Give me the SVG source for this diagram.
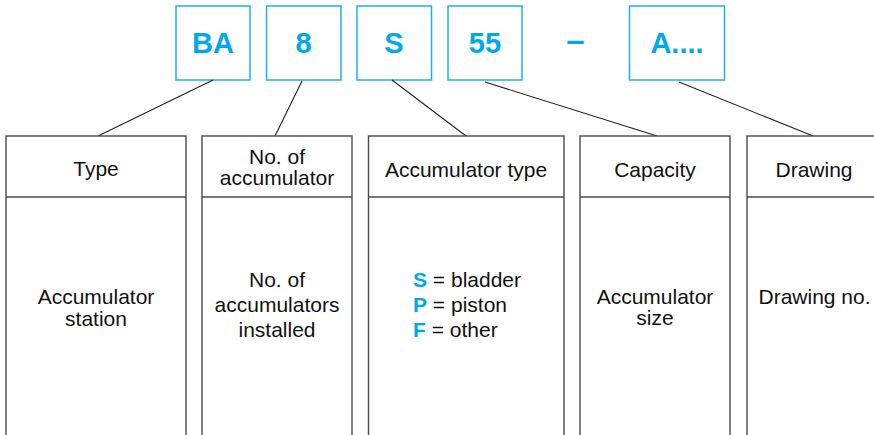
<svg xmlns="http://www.w3.org/2000/svg" width="874" height="435" viewBox="0 0 874 435">
<style>
.code{fill:#fff;stroke:#1fb0ec;stroke-width:1.5}
.ct{font-family:"Liberation Sans",Arial,sans-serif;font-weight:bold;font-size:29px;fill:#00a8ec;text-anchor:middle}
.col{fill:#fff;stroke:#4a4a4a;stroke-width:1.4}
.t{font-family:"Liberation Sans",Arial,sans-serif;font-size:21px;fill:#111;text-anchor:middle}
.ts{font-family:"Liberation Sans",Arial,sans-serif;font-size:21px;fill:#111;text-anchor:start}
.b{font-weight:bold;fill:#00a8ec}
.conn line{stroke:#222;stroke-width:1.1}
</style>
<rect width="874" height="435" fill="#fff"/>
<g id="code-BA"><rect class="code" x="176" y="6" width="74" height="74"/><text class="ct" x="213" y="53">BA</text></g>
<g id="code-8"><rect class="code" x="266.5" y="6" width="74.5" height="74"/><text class="ct" x="303.5" y="53">8</text></g>
<g id="code-S"><rect class="code" x="357" y="6" width="74.5" height="74"/><text class="ct" x="394" y="53">S</text></g>
<g id="code-55"><rect class="code" x="448" y="6" width="74" height="74"/><text class="ct" x="485" y="53">55</text></g>
<g id="dash"><text class="ct" x="575.5" y="51" style="font-size:33px">–</text></g>
<g id="code-A"><rect class="code" x="629.5" y="6" width="95" height="74"/><text class="ct" x="677" y="53">A....</text></g>

<g class="conn" id="connectors">
<line x1="213" y1="80" x2="98" y2="136"/>
<line x1="302" y1="81" x2="275" y2="136"/>
<line x1="392" y1="80" x2="466" y2="136"/>
<line x1="485" y1="82" x2="657" y2="136"/>
<line x1="679" y1="82" x2="813" y2="136"/>
</g>

<g id="col-type">
<rect class="col" x="6" y="136" width="180" height="310"/>
<line x1="6" y1="197" x2="186" y2="197" stroke="#4a4a4a" stroke-width="1.4"/>
<text class="t" x="96" y="176">Type</text>
<text class="t" x="96" y="303.5">Accumulator</text>
<text class="t" x="96" y="325.5">station</text>
</g>
<g id="col-no">
<rect class="col" x="202" y="136" width="150" height="310"/>
<line x1="202" y1="197" x2="352" y2="197" stroke="#4a4a4a" stroke-width="1.4"/>
<text class="t" x="277" y="163.5">No. of</text>
<text class="t" x="277" y="185">accumulator</text>
<text class="t" x="277" y="286.5">No. of</text>
<text class="t" x="277" y="311.5">accumulators</text>
<text class="t" x="277" y="337">installed</text>
</g>
<g id="col-acctype">
<rect class="col" x="368.5" y="136" width="195.5" height="310"/>
<line x1="368.5" y1="197" x2="564" y2="197" stroke="#4a4a4a" stroke-width="1.4"/>
<text class="t" x="466" y="176.5">Accumulator type</text>
<text class="ts" x="413" y="286.5"><tspan class="b">S</tspan> = bladder</text>
<text class="ts" x="413" y="311.5"><tspan class="b">P</tspan> = piston</text>
<text class="ts" x="413" y="337"><tspan class="b">F</tspan> = other</text>
</g>
<g id="col-capacity">
<rect class="col" x="580" y="136" width="150" height="310"/>
<line x1="580" y1="197" x2="730" y2="197" stroke="#4a4a4a" stroke-width="1.4"/>
<text class="t" x="655" y="176.5">Capacity</text>
<text class="t" x="655" y="303.5">Accumulator</text>
<text class="t" x="655" y="324.5">size</text>
</g>
<g id="col-drawing">
<rect class="col" x="747" y="136" width="140" height="310"/>
<line x1="747" y1="197" x2="887" y2="197" stroke="#4a4a4a" stroke-width="1.4"/>
<text class="t" x="814" y="176.5">Drawing</text>
<text class="t" x="814.5" y="304">Drawing no.</text>
</g>
</svg>
